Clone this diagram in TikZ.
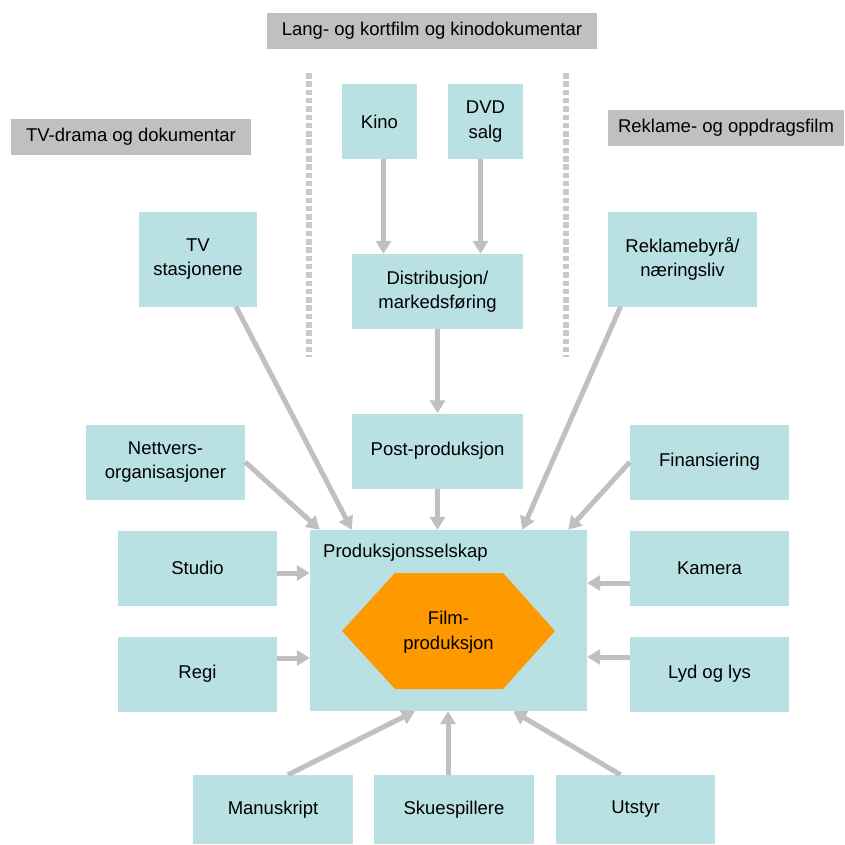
\documentclass[tikz,border=0pt]{standalone}
\usepackage{fontspec}
\setmainfont{Liberation Sans}
\usetikzlibrary{arrows.meta}
\definecolor{boxblue}{HTML}{B9E0E3}
\definecolor{arrowgray}{HTML}{C0C0C0}
\definecolor{filmorange}{HTML}{FF9900}
\begin{document}
\begin{tikzpicture}
[
    x=1pt, y=-1pt,
    box/.style={fill=boxblue, inner sep=0pt, align=center, font=\fontsize{18.5}{24.5}\selectfont},
    tag/.style={fill=arrowgray, inner sep=0pt, font=\fontsize{18.5}{24.5}\selectfont},
    arr/.style={draw=arrowgray, line width=5pt, -{Triangle[length=13pt,width=15pt]}},
    divider/.style={draw=arrowgray!85, line width=5.5pt, dash pattern=on 5.5pt off 2.8pt}
]
    \useasboundingbox (0,0) rectangle (845,844);

    \node [tag, minimum width=330, minimum height=36] (lang) at (432,31) {Lang- og kortfilm og kinodokumentar};
    \node [tag, minimum width=240, minimum height=36] (tvdrama) at (131,137) {TV-drama og dokumentar};
    \node [tag, minimum width=236, minimum height=36] (reklamefilm) at (726,127.5) {Reklame- og oppdragsfilm};

    \draw [divider] (309,73) -- (309,357);
    \draw [divider] (566,73) -- (566,357);

    \node [box, minimum width=75, minimum height=75] (kino) at (379.5,121.5) {Kino};
    \node [box, minimum width=75, minimum height=75] (dvd) at (485.5,121.5) {DVD\\salg};
    \node [box, minimum width=171, minimum height=75] (distr) at (437.5,291.5) {Distribusjon/\\markedsføring};
    \node [box, minimum width=118, minimum height=95] (tv) at (198,259) {TV\\stasjonene};
    \node [box, minimum width=149, minimum height=95] (reklame) at (682.5,259) {Reklamebyrå/\\næringsliv};
    \node [box, minimum width=171, minimum height=75] (post) at (437.5,451) {Post-produksjon};
    \node [box, minimum width=159, minimum height=75] (nett) at (165.5,462) {Nettvers-\\organisasjoner};
    \node [box, minimum width=159, minimum height=75] (fin) at (709.5,462) {Finansiering};
    \node [box, minimum width=159, minimum height=75] (studio) at (197.5,568) {Studio};
    \node [box, minimum width=159, minimum height=75] (regi) at (197.5,674) {Regi};
    \node [box, minimum width=159, minimum height=75] (kamera) at (709.5,568) {Kamera};
    \node [box, minimum width=159, minimum height=75] (lyd) at (709.5,674) {Lyd og lys};
    \node [box, minimum width=160, minimum height=69] (manus) at (273,809.5) {Manuskript};
    \node [box, minimum width=160, minimum height=69] (skue) at (454,809.5) {Skuespillere};
    \node [box, minimum width=159, minimum height=69] (utstyr) at (635.5,809.5) {Utstyr};

    \node [box, minimum width=277, minimum height=181] (prod) at (448.5,620.5) {};
    \node [anchor=west, inner sep=0pt, font=\fontsize{18.5}{24.5}\selectfont] (prodlabel) at (323,553) {Produksjonsselskap};
    \fill [filmorange] (342,631) -- (395,573) -- (503,573) -- (555,631) -- (503,689) -- (395,689) -- cycle;
    \node [align=center, inner sep=0pt, font=\fontsize{18.5}{24.5}\selectfont] (film) at (448.5,632) {Film-\\produksjon};

    \draw [arr] ([xshift=4]kino.south) -- ([xshift=4]kino.south |- distr.north);
    \draw [arr] ([xshift=-5]dvd.south) -- ([xshift=-5]dvd.south |- distr.north);
    \draw [arr] (distr.south) -- (post.north);
    \draw [arr] (post.south) -- (post.south |- prod.north);
    \draw [arr] ([xshift=38]tv.south) -- ([xshift=42]prod.north west);
    \draw [arr] ([xshift=-62]reklame.south) -- ([xshift=-65]prod.north east);
    \draw [arr] (nett.east) -- ([xshift=10]prod.north west);
    \draw [arr] (fin.west) -- ([xshift=-19]prod.north east);
    \draw [arr] ([yshift=-5]studio.east) -- ([yshift=-5]studio.east -| prod.west);
    \draw [arr] ([yshift=16]regi.east) -- ([yshift=16]regi.east -| prod.west);
    \draw [arr] ([yshift=-15]kamera.west) -- ([yshift=-15]kamera.west -| prod.east);
    \draw [arr] ([yshift=17]lyd.west) -- ([yshift=17]lyd.west -| prod.east);
    \draw [arr] ([xshift=15]manus.north) -- ([xshift=105]prod.south west);
    \draw [arr] ([xshift=-6]skue.north) -- ([xshift=-6]skue.north |- prod.south);
    \draw [arr] ([xshift=-15]utstyr.north) -- ([xshift=-74]prod.south east);
\end{tikzpicture}
\end{document}
